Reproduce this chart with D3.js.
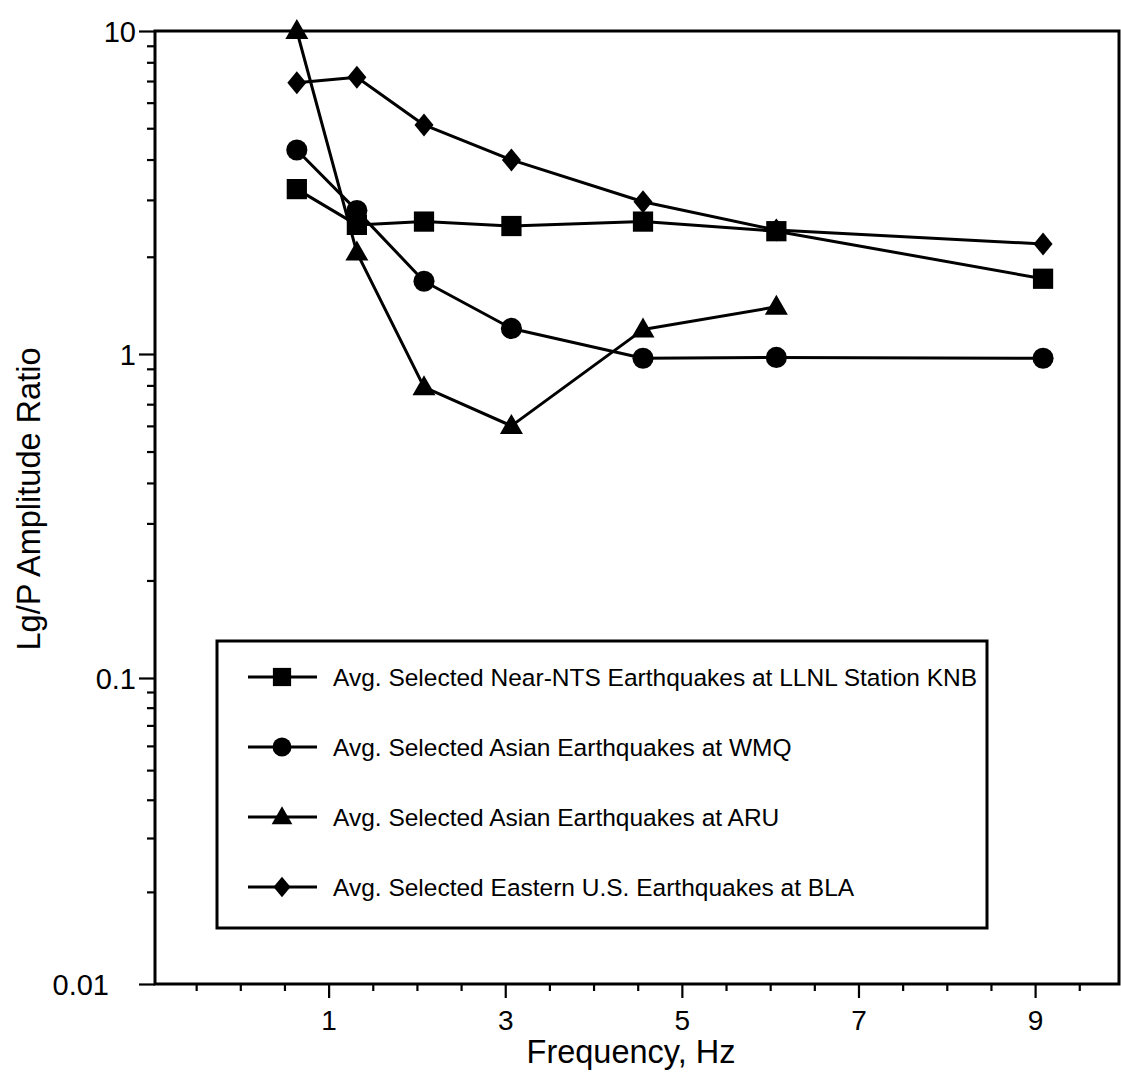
<!DOCTYPE html>
<html>
<head>
<meta charset="utf-8">
<script src="https://cdn.jsdelivr.net/npm/d3@7"></script>
<style>
  html, body { margin: 0; padding: 0; background: #fff; }
  svg { display: block; }
  text { font-family: "Liberation Sans", Arial, Helvetica, sans-serif; fill: #000; }
</style>
</head>
<body>
<svg id="chart" width="1121" height="1083"></svg>
<script>
// ---- data ----
const frequencies = [0.64, 1.32, 2.08, 3.07, 4.56, 6.07, 9.09];
const knbValues = [3.24, 2.51, 2.57, 2.49, 2.57, 2.40, 1.71];
const wmqValues = [4.28, 2.78, 1.68, 1.20, 0.97, 0.976, 0.97];
const aruValues = [10.0, 2.06, 0.79, 0.60, 1.19, 1.40];
const blaValues = [6.92, 7.19, 5.12, 3.99, 2.96, 2.42, 2.19];

const seriesNames = [
  "Avg. Selected Near-NTS Earthquakes at LLNL Station KNB",
  "Avg. Selected Asian Earthquakes at WMQ",
  "Avg. Selected Asian Earthquakes at ARU",
  "Avg. Selected Eastern U.S. Earthquakes at BLA"
];
const seriesMarkers = ["square", "circle", "triangle", "diamond"];
const xTickLabels = [1, 3, 5, 7, 9];
const yTickLabels = [0.01, 0.1, 1, 10];
const xTitle = "Frequency, Hz";
const yTitle = "Lg/P Amplitude Ratio";

(function () {
const series = [knbValues, wmqValues, aruValues, blaValues].map((vals, i) => ({
  name: seriesNames[i],
  marker: seriesMarkers[i],
  points: vals.map((v, j) => ({ f: frequencies[j], v }))
}));

// ---- layout ----
const svg = d3.select("#chart");
const pL = 155, pR = 1119, pT = 31, pB = 984;

const x = d3.scaleLinear().domain([-1, 9.95]).range([152, pR]);
const y = d3.scaleLog().domain([0.01, 0.1, 1, 10]).range([pB, 678, 354, pT]);

// marker shapes
function markerPath(kind, s) {
  s = s || 1;
  if (kind === "square") return d3.symbol(d3.symbolSquare, 410 * s * s)();
  if (kind === "circle") return d3.symbol(d3.symbolCircle, 350 * s * s)();
  if (kind === "triangle") {
    const w = 11.5 * s, h = 20 * s;
    return `M0,${-h * 0.6}L${w},${h * 0.4}L${-w},${h * 0.4}Z`;
  }
  const w = 9.5 * s, h = 11.5 * s;
  return `M0,${-h}L${w},0L0,${h}L${-w},0Z`;
}

// ---- axes ----
const minorY = [];
[0.01, 0.1, 1].forEach(d => { for (let k = 2; k <= 9; k++) minorY.push(+(d * k).toPrecision(3)); });
const minorX = d3.range(-0.5, 10, 0.5).filter(v => !xTickLabels.includes(v));

const yMinor = svg.append("g").attr("transform", `translate(${pL},0)`)
  .call(d3.axisLeft(y).tickValues(minorY).tickSize(8).tickFormat(""));
const yMajor = svg.append("g").attr("transform", `translate(${pL},0)`)
  .call(d3.axisLeft(y).tickValues(yTickLabels).tickSize(16).tickPadding(8)
    .tickFormat(d => d >= 1 ? d3.format("d")(d) : String(d)));

const xMinor = svg.append("g").attr("transform", `translate(0,${pB})`)
  .call(d3.axisBottom(x).tickValues(minorX).tickSize(7).tickFormat(""));
const xMajor = svg.append("g").attr("transform", `translate(0,${pB})`)
  .call(d3.axisBottom(x).tickValues(xTickLabels).tickSize(14).tickPadding(12).tickFormat(d3.format("d")));

[yMinor, yMajor, xMinor, xMajor].forEach(g => {
  g.select(".domain").remove();
  g.selectAll(".tick line").attr("stroke", "#000").attr("stroke-width", 2.2);
});
yMajor.selectAll(".tick text").style("font-size", "29px").attr("dy", "0.36em")
  .attr("x", d => d === 0.01 ? -46 : -19);
xMajor.selectAll(".tick text").style("font-size", "28px");

// frame
svg.append("rect")
  .attr("x", pL).attr("y", pT)
  .attr("width", pR - pL).attr("height", pB - pT)
  .attr("fill", "none").attr("stroke", "#000").attr("stroke-width", 3);

// axis titles
svg.append("text")
  .attr("x", 631).attr("y", 1063)
  .attr("text-anchor", "middle")
  .style("font-size", "32.5px")
  .text(xTitle);

svg.append("text")
  .attr("transform", "translate(40,499) rotate(-90)")
  .attr("text-anchor", "middle")
  .style("font-size", "32.5px")
  .text(yTitle);

// ---- lines and markers ----
const line = d3.line().x(d => x(d.f)).y(d => y(d.v));
const plot = svg.append("g");
series.forEach(s => {
  plot.append("path")
    .attr("d", line(s.points))
    .attr("fill", "none").attr("stroke", "#000").attr("stroke-width", 3)
    .attr("stroke-linejoin", "round");
});
series.forEach(s => {
  plot.selectAll(null).data(s.points).enter().append("path")
    .attr("transform", d => `translate(${x(d.f)},${y(d.v)})`)
    .attr("d", markerPath(s.marker))
    .attr("fill", "#000");
});

// ---- legend ----
const lg = { x: 217, y: 641, w: 770, h: 287 };
svg.append("rect")
  .attr("x", lg.x).attr("y", lg.y).attr("width", lg.w).attr("height", lg.h)
  .attr("fill", "#fff").attr("stroke", "#000").attr("stroke-width", 3);

const rowY = d3.scalePoint().domain(seriesNames).range([677, 887]);
const legendRows = svg.append("g").selectAll("g").data(series).enter().append("g")
  .attr("transform", d => `translate(0,${rowY(d.name)})`);
legendRows.append("line")
  .attr("x1", 248).attr("x2", 317).attr("y1", 0).attr("y2", 0)
  .attr("stroke", "#000").attr("stroke-width", 3);
legendRows.append("path")
  .attr("transform", "translate(282,0)")
  .attr("d", d => markerPath(d.marker, 0.9))
  .attr("fill", "#000");
legendRows.append("text")
  .attr("x", 333).attr("y", 0).attr("dy", "0.36em")
  .style("font-size", "24.5px")
  .text(d => d.name);
})();
</script>
</body>
</html>
